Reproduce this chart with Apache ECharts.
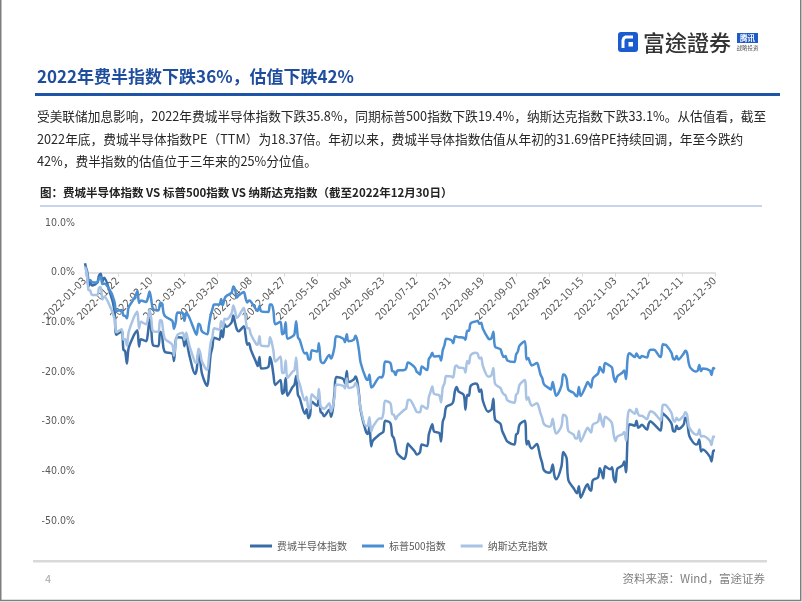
<!DOCTYPE html>
<html><head><meta charset="utf-8">
<script src="https://cdn.jsdelivr.net/npm/echarts@6/dist/echarts.min.js"></script>
<style>html,body{margin:0;padding:0;background:#fff}#c{width:802px;height:602px}</style>
</head><body><div id="c"></div>
<script>
// Trading dates of 2022 (MM-DD)
const tradeDates = [
 '01-03','01-04','01-05','01-06','01-07','01-10','01-11','01-12','01-13','01-14','01-18','01-19','01-20','01-21','01-24','01-25','01-26','01-27','01-28','01-31',
 '02-01','02-02','02-03','02-04','02-07','02-08','02-09','02-10','02-11','02-14','02-15','02-16','02-17','02-18','02-22','02-23','02-24','02-25','02-28',
 '03-01','03-02','03-03','03-04','03-07','03-08','03-09','03-10','03-11','03-14','03-15','03-16','03-17','03-18','03-21','03-22','03-23','03-24','03-25','03-28','03-29','03-30','03-31',
 '04-01','04-04','04-05','04-06','04-07','04-08','04-11','04-12','04-13','04-14','04-18','04-19','04-20','04-21','04-22','04-25','04-26','04-27','04-28','04-29',
 '05-02','05-03','05-04','05-05','05-06','05-09','05-10','05-11','05-12','05-13','05-16','05-17','05-18','05-19','05-20','05-23','05-24','05-25','05-26','05-27','05-31',
 '06-01','06-02','06-03','06-06','06-07','06-08','06-09','06-10','06-13','06-14','06-15','06-16','06-17','06-21','06-22','06-23','06-24','06-27','06-28','06-29','06-30',
 '07-01','07-05','07-06','07-07','07-08','07-11','07-12','07-13','07-14','07-15','07-18','07-19','07-20','07-21','07-22','07-25','07-26','07-27','07-28','07-29',
 '08-01','08-02','08-03','08-04','08-05','08-08','08-09','08-10','08-11','08-12','08-15','08-16','08-17','08-18','08-19','08-22','08-23','08-24','08-25','08-26','08-29','08-30','08-31',
 '09-01','09-02','09-06','09-07','09-08','09-09','09-12','09-13','09-14','09-15','09-16','09-19','09-20','09-21','09-22','09-23','09-26','09-27','09-28','09-29','09-30',
 '10-03','10-04','10-05','10-06','10-07','10-10','10-11','10-12','10-13','10-14','10-17','10-18','10-19','10-20','10-21','10-24','10-25','10-26','10-27','10-28','10-31',
 '11-01','11-02','11-03','11-04','11-07','11-08','11-09','11-10','11-11','11-14','11-15','11-16','11-17','11-18','11-21','11-22','11-23','11-25','11-28','11-29','11-30',
 '12-01','12-02','12-05','12-06','12-07','12-08','12-09','12-12','12-13','12-14','12-15','12-16','12-19','12-20','12-21','12-22','12-23','12-27','12-28','12-29','12-30'
];
// 费城半导体指数 (% change YTD)
const soxChange = [
 1.9,0.3,-2.8,-1.8,-2.6,-2.0,-0.6,-0.2,-1.8,-1.0,-4.8,-6.0,-8.0,-12.5,-11.8,-15.5,-15.8,-18.3,-15.2,-12.6,
 -12.0,-11.6,-14.9,-13.4,-13.8,-12.3,-9.5,-11.6,-14.6,-14.8,-11.9,-12.3,-15.2,-16.0,-16.3,-17.8,-13.6,-13.0,-13.2,
 -14.8,-12.9,-15.2,-16.9,-20.4,-19.5,-16.0,-17.7,-20.3,-22.8,-20.4,-16.5,-15.0,-13.1,-13.5,-11.6,-13.0,-10.4,-10.9,-10.0,-8.6,-10.1,-11.4,
 -11.8,-10.8,-12.5,-14.5,-14.2,-15.5,-18.0,-18.8,-17.0,-19.3,-19.0,-17.0,-18.2,-20.6,-22.6,-21.6,-24.4,-24.0,-21.2,-24.8,
 -23.0,-22.6,-20.8,-24.6,-25.2,-28.4,-27.5,-29.3,-28.6,-26.0,-26.8,-24.6,-28.0,-28.3,-28.9,-27.6,-29.0,-27.5,-24.0,-21.0,-21.4,
 -22.3,-19.8,-22.0,-21.5,-20.9,-21.8,-24.4,-27.8,-32.0,-32.5,-31.0,-35.0,-33.8,-32.5,-32.3,-32.0,-29.8,-30.3,-32.8,-33.3,-35.0,
 -36.4,-37.5,-36.6,-34.4,-34.8,-36.0,-36.6,-36.5,-36.1,-34.6,-34.9,-32.6,-31.4,-30.5,-32.0,-32.3,-34.0,-30.0,-29.0,-27.0,
 -26.5,-26.0,-23.8,-23.0,-23.9,-24.6,-27.6,-24.6,-24.8,-22.8,-22.3,-22.6,-24.0,-23.5,-25.8,-28.0,-27.8,-27.5,-25.4,-29.6,-30.4,-31.8,-32.6,
 -33.4,-34.0,-34.6,-32.6,-32.3,-30.6,-29.8,-34.6,-33.9,-35.0,-35.4,-34.5,-35.6,-37.2,-38.4,-39.8,-40.3,-40.0,-38.6,-40.9,-41.6,
 -39.0,-36.1,-36.6,-37.4,-41.8,-43.4,-44.0,-44.4,-43.0,-45.3,-43.0,-42.6,-43.6,-43.9,-41.8,-41.2,-39.4,-40.2,-41.4,-39.0,-39.6,
 -39.2,-41.5,-42.2,-39.5,-38.8,-38.0,-40.2,-32.5,-30.5,-30.8,-29.8,-31.2,-31.0,-30.6,-31.6,-30.4,-29.9,-30.5,-31.6,-31.8,-28.3,
 -28.6,-28.9,-30.3,-31.9,-32.0,-30.8,-31.5,-30.6,-29.2,-29.8,-32.5,-33.4,-34.6,-34.5,-33.6,-36.0,-35.6,-37.0,-38.0,-35.9,-35.8
];
// 标普500指数
const spxChange = [
 0.6,0.6,-1.4,-1.5,-1.9,-2.0,-1.1,-0.8,-2.3,-2.2,-4.0,-4.9,-6.0,-7.7,-7.5,-8.6,-8.7,-9.2,-7.0,-5.3,
 -4.6,-3.7,-6.1,-5.6,-5.9,-5.1,-3.8,-5.5,-7.3,-7.6,-6.2,-6.1,-8.1,-8.8,-9.7,-11.3,-10.0,-8.0,-8.2,
 -9.7,-8.0,-8.5,-9.2,-11.9,-12.5,-10.3,-10.6,-11.8,-12.4,-10.6,-8.6,-7.4,-6.4,-6.4,-5.3,-6.5,-5.2,-4.7,-4.0,-2.8,-3.4,-5.0,
 -4.6,-3.9,-5.1,-6.0,-5.6,-5.8,-7.4,-7.7,-6.7,-7.8,-7.9,-6.4,-6.4,-7.8,-10.4,-9.9,-12.4,-12.2,-10.0,-13.3,
 -12.8,-12.4,-9.8,-13.0,-13.5,-16.3,-16.1,-17.4,-17.5,-15.6,-15.9,-14.2,-17.7,-18.2,-18.1,-16.6,-17.3,-16.5,-14.9,-12.8,-13.3,
 -14.0,-12.4,-13.8,-13.5,-12.7,-13.6,-15.7,-18.2,-21.3,-21.6,-20.5,-23.1,-22.9,-21.0,-21.1,-20.4,-17.9,-18.2,-19.8,-19.9,-20.6,
 -19.7,-19.6,-19.3,-18.1,-18.2,-19.1,-19.9,-20.2,-20.5,-18.9,-19.6,-17.4,-16.9,-16.1,-16.9,-16.8,-17.7,-15.6,-14.6,-13.3,
 -13.6,-14.2,-12.8,-12.9,-13.0,-13.1,-13.5,-11.7,-11.7,-10.2,-9.8,-9.7,-10.3,-10.1,-11.3,-13.2,-13.4,-13.1,-11.9,-14.9,-15.4,-16.4,-17.0,
 -16.8,-17.7,-18.0,-16.5,-15.9,-14.7,-13.8,-17.5,-17.2,-18.1,-18.7,-18.2,-19.1,-20.5,-21.2,-22.5,-23.3,-23.5,-22.0,-23.6,-24.8,
 -22.8,-20.5,-20.6,-21.4,-23.6,-24.2,-24.7,-24.9,-23.0,-24.8,-22.8,-22.0,-22.5,-23.1,-21.3,-20.3,-19.0,-19.6,-20.1,-18.2,-18.8,
 -19.1,-21.1,-22.0,-20.9,-20.1,-19.7,-21.4,-17.0,-16.2,-17.0,-16.3,-16.9,-17.2,-16.8,-17.1,-16.0,-15.5,-15.5,-16.8,-17.0,-14.4,
 -14.5,-14.6,-16.1,-17.3,-17.5,-16.8,-17.5,-16.3,-15.7,-16.2,-18.3,-19.2,-19.9,-19.8,-18.6,-19.8,-19.3,-19.7,-20.6,-19.2,-19.4
];
// 纳斯达克指数
const ixicChange = [
 1.2,-0.1,-3.5,-3.6,-4.5,-4.5,-3.1,-2.9,-5.4,-4.8,-7.3,-8.3,-9.5,-12.0,-11.4,-13.5,-13.4,-14.7,-12.0,-9.0,
 -8.3,-7.8,-11.3,-9.9,-10.4,-9.3,-7.4,-9.3,-11.8,-11.9,-9.6,-9.7,-12.3,-13.4,-14.5,-16.7,-13.9,-12.5,-12.1,
 -13.5,-12.1,-13.5,-14.9,-18.0,-18.2,-15.3,-16.1,-17.9,-19.6,-17.2,-14.1,-13.0,-11.2,-11.5,-9.8,-11.0,-9.3,-9.4,-8.2,-6.6,-7.7,-9.1,
 -8.8,-7.1,-9.2,-11.2,-11.2,-12.4,-14.3,-14.5,-12.8,-14.7,-14.8,-13.0,-14.0,-15.8,-17.9,-16.9,-20.2,-20.2,-17.7,-21.2,
 -19.9,-19.7,-17.1,-21.3,-22.4,-25.7,-25.0,-27.4,-27.3,-24.5,-25.5,-23.4,-27.0,-27.2,-27.4,-26.3,-28.0,-26.9,-25.0,-22.5,-22.8,
 -23.3,-21.3,-23.2,-22.9,-22.2,-22.8,-24.9,-27.5,-30.9,-30.8,-29.1,-32.0,-31.0,-29.3,-29.4,-28.2,-25.8,-26.3,-28.5,-28.6,-29.5,
 -28.9,-27.6,-27.4,-25.7,-25.6,-27.3,-28.0,-28.1,-28.1,-26.8,-27.4,-25.1,-24.0,-22.9,-24.4,-24.7,-26.1,-23.1,-22.3,-20.8,
 -20.9,-21.1,-19.0,-18.7,-19.1,-19.2,-20.1,-17.8,-18.3,-16.6,-16.1,-16.3,-17.3,-17.1,-18.8,-20.9,-20.9,-20.5,-19.2,-22.4,-23.2,-24.0,-24.5,
 -24.7,-25.7,-26.2,-24.6,-24.2,-22.6,-21.6,-25.6,-25.1,-26.2,-26.8,-26.3,-27.0,-28.3,-29.3,-30.5,-31.0,-30.8,-29.4,-31.4,-32.4,
 -30.9,-28.6,-28.7,-29.2,-31.9,-32.6,-33.4,-33.4,-31.9,-34.0,-31.8,-31.2,-31.7,-32.2,-30.6,-30.0,-28.4,-29.9,-31.0,-29.0,-29.8,
 -30.4,-32.7,-33.9,-33.0,-32.5,-32.1,-33.8,-29.0,-27.6,-28.4,-27.4,-28.5,-28.8,-28.8,-29.5,-28.6,-27.9,-28.2,-29.4,-29.8,-26.7,
 -26.6,-26.7,-28.2,-29.6,-30.0,-29.2,-29.7,-28.8,-28.1,-28.6,-30.9,-31.6,-32.6,-32.6,-31.6,-33.0,-32.9,-33.8,-34.7,-33.0,-33.1
];
const seriesNames = ['费城半导体指数', '标普500指数', '纳斯达克指数'];
const tickLabels = ['2022-01-03','2022-01-22','2022-02-10','2022-03-01','2022-03-20','2022-04-08','2022-04-27','2022-05-16','2022-06-04','2022-06-23','2022-07-12','2022-07-31','2022-08-19','2022-09-07','2022-09-26','2022-10-15','2022-11-03','2022-11-22','2022-12-11','2022-12-30'];
const paragraphLines = [
 '受美联储加息影响，2022年费城半导体指数下跌35.8%，同期标普500指数下跌19.4%，纳斯达克指数下跌33.1%。从估值看，截至',
 '2022年底，费城半导体指数PE（TTM）为18.37倍。年初以来，费城半导体指数估值从年初的31.69倍PE持续回调，年至今跌约',
 '42%，费半指数的估值位于三年来的25%分位值。'
];

const T0 = Date.UTC(2022, 0, 3);
function dayIndex(md) {
  const [m, d] = md.split('-').map(Number);
  return Math.round((Date.UTC(2022, m - 1, d) - T0) / 86400000);
}
const xs = tradeDates.map(dayIndex);
const pair = arr => arr.map((v, i) => [xs[i], v]);

const CJK = "'Noto Sans CJK SC', 'Noto Sans', sans-serif";
const NARROW = "'Liberation Sans Narrow', 'DejaVu Sans Condensed', 'Liberation Sans', sans-serif";
const colors = ['#3A6DA6', '#4B8ED2', '#A8C3E4'];

// layout of the plot area
const GRID_TOP = 223, GRID_BOTTOM = 81, Y_MIN = -50, Y_MAX = 10;
const gridH = 602 - GRID_TOP - GRID_BOTTOM;
const zeroOffset = -gridH * (0 - Y_MIN) / (Y_MAX - Y_MIN); // move x axis line up to the 0% level

const graphics = [
  { type: 'rect', shape: { x: 0.75, y: -5, width: 800, height: 605.5 }, style: { fill: null, stroke: '#7f7f7f', lineWidth: 1.5 }, silent: true },
  // logo
  { type: 'rect', shape: { x: 618, y: 32, width: 20, height: 20, r: 3 }, style: { fill: '#1b5bd0' } },
  { type: 'polyline', shape: { points: [[623, 48], [623, 40.5], [623.8, 38.2], [625.5, 37], [633, 37]] }, style: { fill: null, stroke: '#fff', lineWidth: 3 } },
  { type: 'rect', shape: { x: 628.5, y: 42, width: 4.5, height: 4.5 }, style: { fill: '#fff' } },
  { type: 'text', x: 643, y: 42.5, style: { text: '富途證券', fontSize: 22, fontFamily: "'Noto Sans CJK TC', 'Noto Sans CJK SC', sans-serif", fontWeight: 500, fill: '#333', verticalAlign: 'middle' } },
  { type: 'rect', shape: { x: 737, y: 33, width: 21, height: 10 }, style: { fill: '#1e5ac8' } },
  { type: 'text', x: 747.5, y: 38, style: { text: '腾讯', fontSize: 7.5, fontFamily: CJK, fontWeight: 'bold', fill: '#fff', align: 'center', verticalAlign: 'middle' } },
  { type: 'text', x: 747.5, y: 48, style: { text: '战略投资', fontSize: 5.5, fontFamily: CJK, fill: '#555', align: 'center', verticalAlign: 'middle' } },
  // title
  { type: 'text', x: 37, y: 77, style: { text: '2022年费半指数下跌36%，估值下跌42%', fontSize: 17, fontWeight: 'bold', fontFamily: CJK, fill: '#1F4E9E', verticalAlign: 'middle' } },
  { type: 'rect', shape: { x: 35, y: 93, width: 745, height: 3 }, style: { fill: '#1f55a8' } },
  // chart title
  { type: 'text', x: 40, y: 193, style: { text: '图：费城半导体指数 VS 标普500指数 VS 纳斯达克指数（截至2022年12月30日）', fontSize: 11.5, fontWeight: 'bold', fontFamily: CJK, fill: '#222', verticalAlign: 'middle' } },
  { type: 'rect', shape: { x: 40, y: 205.5, width: 722, height: 1 }, style: { fill: '#8faadc' } },
  // footer
  { type: 'rect', shape: { x: 33, y: 560, width: 734, height: 2.5 }, style: { fill: '#d9d9d9' } },
  { type: 'text', x: 45, y: 579, style: { text: '4', fontSize: 11, fontFamily: CJK, fill: '#a6a6a6', verticalAlign: 'middle' } },
  { type: 'text', x: 765, y: 579, style: { text: '资料来源：Wind，富途证券', fontSize: 11.5, fontFamily: CJK, fill: '#7f7f7f', align: 'right', verticalAlign: 'middle' } }
];
const lineYs = [116, 139, 161];
paragraphLines.forEach((t, i) => graphics.push({
  type: 'text', x: 37, y: lineYs[i],
  style: { text: t, fontSize: 12.7, fontFamily: CJK, fill: '#262626', verticalAlign: 'middle' }
}));

const chart = echarts.init(document.getElementById('c'));
chart.setOption({
  backgroundColor: '#fff',
  animation: false,
  color: colors,
  grid: { left: 85, right: 87, top: GRID_TOP, bottom: GRID_BOTTOM },
  legend: {
    data: seriesNames, left: 245, top: 536, icon: 'rect', itemWidth: 22, itemHeight: 3, itemGap: 15,
    textStyle: { fontSize: 10, color: '#595959', fontFamily: CJK }
  },
  xAxis: {
    type: 'value', min: 0, max: 361, interval: 19, position: 'bottom', offset: zeroOffset,
    axisLine: { onZero: false, lineStyle: { color: '#d9d9d9', width: 1.5 } },
    axisTick: { show: true, length: 4, lineStyle: { color: '#d9d9d9' } },
    splitLine: { show: false },
    axisLabel: {
      rotate: 45, margin: 7, fontSize: 10.5, color: '#595959', fontFamily: NARROW,
      showMinLabel: true, showMaxLabel: true,
      formatter: v => tickLabels[Math.round(v / 19)] || ''
    }
  },
  yAxis: {
    type: 'value', min: Y_MIN, max: Y_MAX, interval: 10,
    axisLine: { show: false, onZero: false }, axisTick: { show: false }, splitLine: { show: false },
    axisLabel: { margin: 10, fontSize: 10.5, color: '#595959', fontFamily: NARROW, formatter: v => v.toFixed(1) + '%' }
  },
  series: [
    { name: seriesNames[0], type: 'line', data: pair(soxChange), showSymbol: false, smooth: 0.3, lineStyle: { width: 2.5 } },
    { name: seriesNames[1], type: 'line', data: pair(spxChange), showSymbol: false, smooth: 0.3, lineStyle: { width: 2.5 } },
    { name: seriesNames[2], type: 'line', data: pair(ixicChange), showSymbol: false, smooth: 0.3, lineStyle: { width: 2.5 } }
  ],
  graphic: graphics
});
</script>
</body></html>
